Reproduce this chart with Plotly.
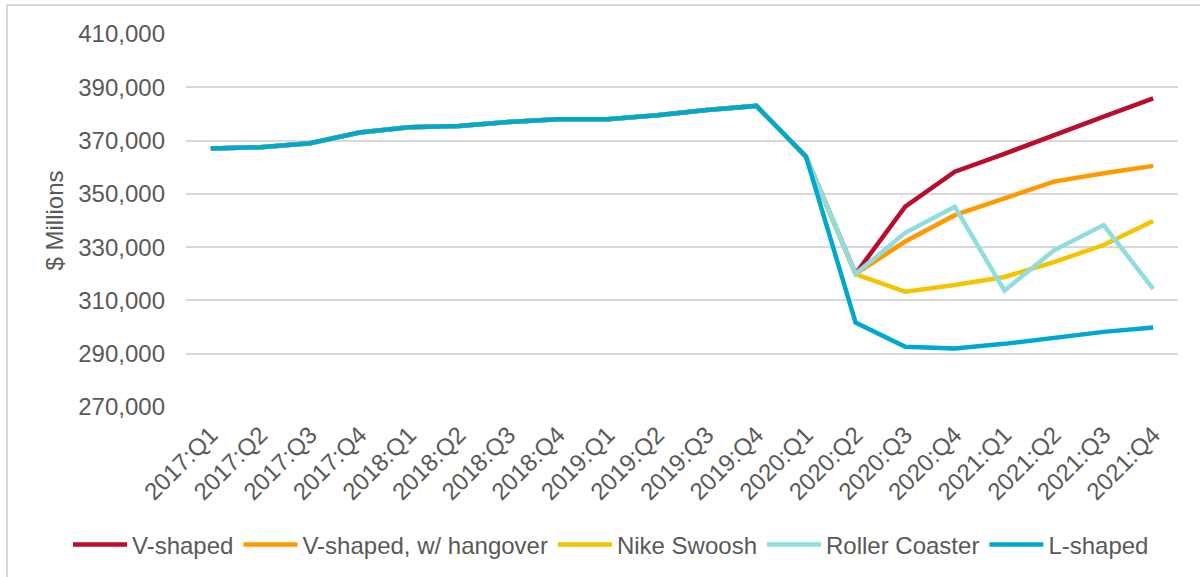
import plotly.graph_objects as go

quarters = ["2017:Q1", "2017:Q2", "2017:Q3", "2017:Q4",
            "2018:Q1", "2018:Q2", "2018:Q3", "2018:Q4",
            "2019:Q1", "2019:Q2", "2019:Q3", "2019:Q4",
            "2020:Q1", "2020:Q2", "2020:Q3", "2020:Q4",
            "2021:Q1", "2021:Q2", "2021:Q3", "2021:Q4"]

history = [367000, 367500, 369000, 373000, 375000, 375500, 377000, 378000,
           378000, 379500, 381500, 383000, 364000]

v_shaped = history + [320000, 345200, 358300, 365000, 372100, 379000, 385800]
v_hangover = history + [320000, 332100, 342000, 348300, 354600, 357700, 360500]
nike_swoosh = history + [319800, 313300, 315800, 318800, 324400, 330800, 339800]
roller_coaster = history + [320000, 335400, 345200, 313700, 328800, 338300, 314300]
l_shaped = history + [301700, 292600, 292000, 293700, 296000, 298200, 299800]

series_names = ["V-shaped", "V-shaped, w/ hangover", "Nike Swoosh", "Roller Coaster", "L-shaped"]
series_values = [v_shaped, v_hangover, nike_swoosh, roller_coaster, l_shaped]
series_colors = ["#BA0C2F", "#FF9900", "#F2C500", "#8EDDE0", "#00A8CC"]

y_ticks = [270000, 290000, 310000, 330000, 350000, 370000, 390000, 410000]

fig = go.Figure()
for name, vals, col in zip(series_names, series_values, series_colors):
    fig.add_trace(go.Scatter(
        x=quarters, y=vals, name=name, mode="lines",
        line=dict(color=col, width=4.5),
    ))

font_family = "Arial, Liberation Sans, sans-serif"
fig.update_layout(
    width=1200, height=577,
    margin=dict(l=186, r=22, t=34, b=170, autoexpand=False),
    paper_bgcolor="white", plot_bgcolor="white",
    font=dict(family=font_family, color="#595959", size=24),
    showlegend=True,
    legend=dict(orientation="h", xref="paper", yref="paper",
                x=(68 - 186) / 992, xanchor="left", y=-0.37, yanchor="middle",
                font=dict(size=24, color="#595959"), itemwidth=54, tracegroupgap=0,
                bgcolor="rgba(0,0,0,0)"),
    xaxis=dict(type="category", tickangle=-45, showgrid=False, showline=False,
               ticks="", ticklabelstandoff=8,
               tickfont=dict(size=24, color="#595959"), range=[-0.5, 19.5]),
    yaxis=dict(range=[270000, 410000], tickvals=y_ticks, tickformat=",",
               showgrid=True, gridcolor="#D9D9D9", gridwidth=1.5, zeroline=False,
               showline=False, ticks="", ticklabelstandoff=20,
               tickfont=dict(size=24, color="#595959"),
               title=dict(text="$ Millions", font=dict(size=24, color="#595959"), standoff=7)),
    shapes=[dict(type="rect", xref="paper", yref="paper",
                 x0=(7 - 186) / 992, x1=(1210 - 186) / 992,
                 y0=(407 - 590) / 373, y1=(407 - 5) / 373,
                 line=dict(color="#D9D9D9", width=2), fillcolor="rgba(0,0,0,0)", layer="below")],
)

fig.write_html("out.html")
